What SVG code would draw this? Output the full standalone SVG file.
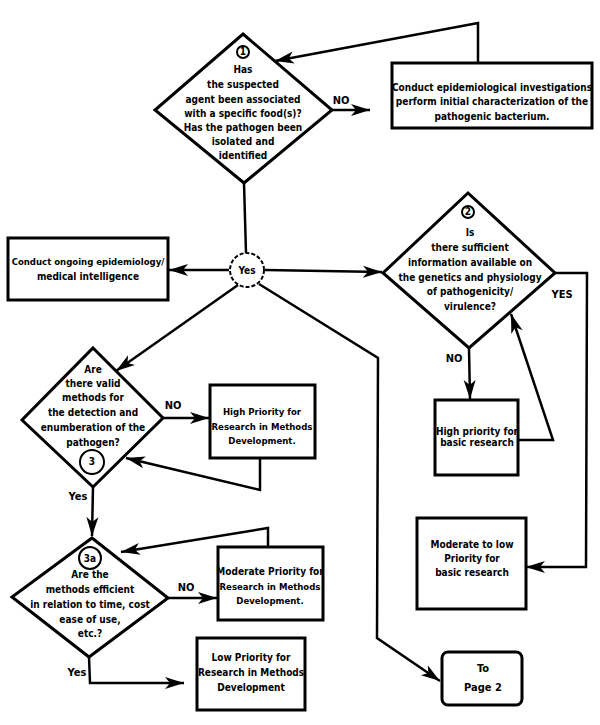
<svg xmlns="http://www.w3.org/2000/svg" width="600" height="725" viewBox="0 0 600 725">
<style>
.sh{fill:#fff;stroke:#000;stroke-width:3}
.cn{fill:none;stroke:#000;stroke-width:2.5}
.t{font-family:"DejaVu Sans Condensed","DejaVu Sans",sans-serif;font-weight:bold;font-size:10px;fill:#000;text-anchor:middle}
.s{font-size:9.5px}
.l{font-family:"DejaVu Sans Condensed","DejaVu Sans",sans-serif;font-weight:bold;font-size:11px;fill:#000;text-anchor:middle}
.c{fill:#fff;stroke:#000;stroke-width:2}
</style>
<defs>
<marker id="ah" markerUnits="userSpaceOnUse" markerWidth="22" markerHeight="14" refX="19" refY="7" orient="auto">
<path d="M0,1 L19,7 L0,13 L5,7 Z" fill="#000"/>
</marker>
</defs>
<rect width="600" height="725" fill="#fff"/>
<g id="connectors">
<polyline class="cn" points="478,63 478,23 275,61" marker-end="url(#ah)"/>
<line class="cn" x1="332" y1="110" x2="370" y2="110" marker-end="url(#ah)"/>
<line class="cn" x1="244" y1="183" x2="246" y2="253"/>
<line class="cn" x1="229" y1="270" x2="169" y2="270" marker-end="url(#ah)"/>
<line class="cn" x1="265" y1="270" x2="382" y2="272" marker-end="url(#ah)"/>
<polyline class="cn" points="555,273 587,273 586,567 526,567" marker-end="url(#ah)"/>
<line class="cn" x1="469" y1="348" x2="470" y2="399" marker-end="url(#ah)"/>
<polyline class="cn" points="518,440 553,440 511,314" marker-end="url(#ah)"/>
<line class="cn" x1="238" y1="285" x2="116" y2="371" marker-end="url(#ah)"/>
<polyline class="cn" points="259,284 378,358 377,638 440,681" marker-end="url(#ah)"/>
<line class="cn" x1="163" y1="418" x2="209" y2="418" marker-end="url(#ah)"/>
<polyline class="cn" points="260,458 260,490 126,458" marker-end="url(#ah)"/>
<line class="cn" x1="93" y1="487" x2="92" y2="536" marker-end="url(#ah)"/>
<line class="cn" x1="168" y1="598" x2="217" y2="598" marker-end="url(#ah)"/>
<polyline class="cn" points="268,547 268,528 121,552" marker-end="url(#ah)"/>
<polyline class="cn" points="89,657 90,683 184,683" marker-end="url(#ah)"/>
<text class="l" x="341" y="104">NO</text>
<text class="l" x="562" y="298">YES</text>
<text class="l" x="454" y="362">NO</text>
<text class="l" x="173" y="409">NO</text>
<text class="l" x="78" y="500">Yes</text>
<text class="l" x="186" y="591">NO</text>
<text class="l" x="77" y="676">Yes</text>
</g>
<g id="d1">
<polygon class="sh" points="243,34 332,110 244,183 155,110"/>
<circle class="c" cx="243" cy="52" r="6"/>
<text class="t" x="243" y="55" font-size="9">1</text>
<text class="t" x="243" y="73">Has</text>
<text class="t" x="243" y="88">the suspected</text>
<text class="t" x="243" y="103">agent been associated</text>
<text class="t" x="243" y="117">with a specific food(s)?</text>
<text class="t" x="243" y="131">Has the pathogen been</text>
<text class="t" x="243" y="145">isolated and</text>
<text class="t" x="243" y="159">identified</text>
</g>
<g id="b1">
<rect class="sh" x="392" y="63" width="200" height="65"/>
<text class="t" x="492" y="91">Conduct epidemiological investigations</text>
<text class="t" x="492" y="105">perform initial characterization of the</text>
<text class="t" x="492" y="120">pathogenic bacterium.</text>
</g>
<g id="b2">
<rect class="sh" x="8" y="238" width="160" height="62"/>
<text class="t s" x="88" y="265">Conduct ongoing epidemiology/</text>
<text class="t" x="88" y="280">medical intelligence</text>
</g>
<g id="yes">
<circle cx="247" cy="270" r="17" fill="#fff" stroke="#000" stroke-width="2" stroke-dasharray="4,2"/>
<text class="t" x="247" y="274">Yes</text>
</g>
<g id="d2">
<polygon class="sh" points="468,193 555,273 469,348 383,273"/>
<circle class="c" cx="468" cy="212" r="6"/>
<text class="t" x="468" y="215" font-size="9">2</text>
<text class="t" x="470" y="236">Is</text>
<text class="t" x="470" y="251">there sufficient</text>
<text class="t" x="470" y="266">information available on</text>
<text class="t" x="470" y="281">the genetics and physiology</text>
<text class="t" x="470" y="295">of pathogenicity/</text>
<text class="t" x="470" y="310">virulence?</text>
</g>
<g id="b3">
<rect class="sh" x="435" y="400" width="83" height="75"/>
<text class="t" x="477" y="435" font-size="9">High priority for</text>
<text class="t" x="477" y="446" font-size="9">basic research</text>
</g>
<g id="b4">
<rect class="sh" x="417" y="518" width="109" height="91"/>
<text class="t" x="472" y="548">Moderate to low</text>
<text class="t" x="472" y="562">Priority for</text>
<text class="t" x="472" y="576">basic research</text>
</g>
<g id="d3">
<polygon class="sh" points="93,348 163,418 93,487 22,420"/>
<text class="t" x="93" y="373">Are</text>
<text class="t" x="93" y="387">there valid</text>
<text class="t" x="93" y="401">methods for</text>
<text class="t" x="93" y="416">the detection and</text>
<text class="t" x="93" y="431">enumberation of the</text>
<text class="t" x="93" y="446">pathogen?</text>
<circle class="c" cx="92" cy="462" r="12"/>
<text class="t" x="92" y="465" font-size="9">3</text>
</g>
<g id="b5">
<rect class="sh" x="210" y="385" width="105" height="73"/>
<text class="t s" x="262" y="415">High Priority for</text>
<text class="t s" x="262" y="430">Research in Methods</text>
<text class="t s" x="262" y="444">Development.</text>
</g>
<g id="d3a">
<polygon class="sh" points="92,538 168,598 89,657 12,597"/>
<circle class="c" cx="90" cy="558" r="11"/>
<text class="t" x="90" y="562">3a</text>
<text class="t" x="90" y="578">Are the</text>
<text class="t" x="90" y="593">methods efficient</text>
<text class="t" x="90" y="608">in relation to time, cost</text>
<text class="t" x="90" y="623">ease of use,</text>
<text class="t" x="90" y="637">etc.?</text>
</g>
<g id="b6">
<rect class="sh" x="218" y="547" width="105" height="73"/>
<text class="t" x="270" y="575" font-size="9">Moderate Priority for</text>
<text class="t s" x="270" y="590">Research in Methods</text>
<text class="t s" x="270" y="604">Development.</text>
</g>
<g id="b7">
<rect class="sh" x="197" y="638" width="108" height="72"/>
<text class="t" x="251" y="661">Low Priority for</text>
<text class="t" x="251" y="676">Research in Methods</text>
<text class="t" x="251" y="691">Development</text>
</g>
<g id="p2">
<rect class="sh" x="442" y="652" width="80" height="53" rx="6"/>
<text class="l" x="483" y="672">To</text>
<text class="l" x="483" y="691">Page 2</text>
</g>
</svg>
